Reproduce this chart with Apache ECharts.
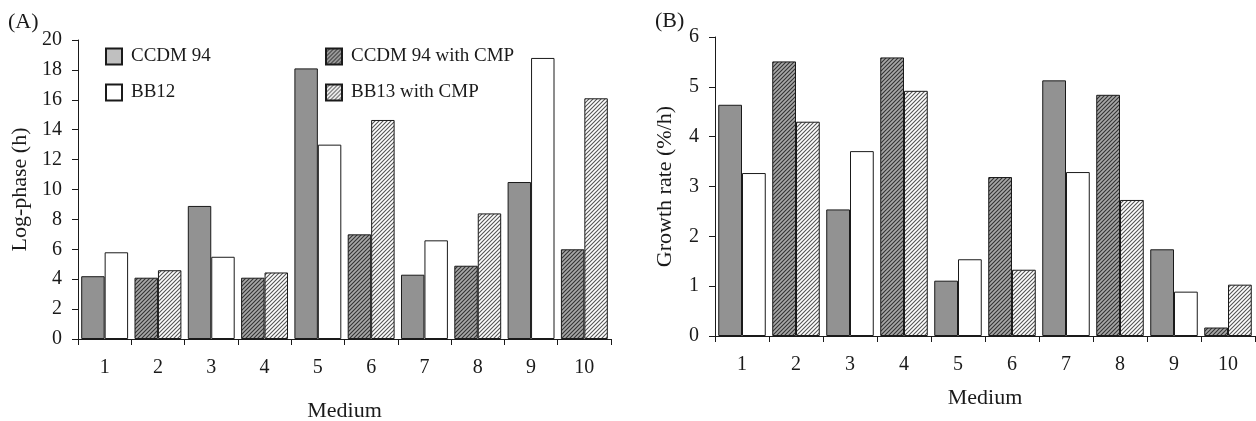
<!DOCTYPE html>
<html>
<head>
<meta charset="utf-8">
<script src="https://cdn.jsdelivr.net/npm/echarts@6/dist/echarts.min.js"></script>
<style>
    html, body { margin: 0; padding: 0; background: #fff; }
    #chart { width: 1256px; height: 421px; }
</style>
</head>
<body>
<div id="chart"></div>
<script>
// categories
const mediums = ["1", "2", "3", "4", "5", "6", "7", "8", "9", "10"];

// (A) log-phase, hours
const lag_ccdm = [4.2, null, 8.9, null, 18.1, null, 4.3, null, 10.5, null];
const lag_bb12 = [5.8, null, 5.5, null, 13.0, null, 6.6, null, 18.8, null];
const lag_ccdm_cmp = [null, 4.1, null, 4.1, null, 7.0, null, 4.9, null, 6.0];
const lag_bb13_cmp = [null, 4.6, null, 4.45, null, 14.65, null, 8.4, null, 16.1];

// (B) growth rate, %/h
const rate_ccdm = [4.64, null, 2.54, null, 1.11, null, 5.13, null, 1.74, null];
const rate_bb12 = [3.27, null, 3.71, null, 1.54, null, 3.29, null, 0.89, null];
const rate_ccdm_cmp = [null, 5.51, null, 5.59, null, 3.19, null, 4.84, null, 0.17];
const rate_bb13_cmp = [null, 4.3, null, 4.92, null, 1.33, null, 2.73, null, 1.03];

const FONT = "Liberation Serif";
const INK = "#1a1a1a";

// small tiled canvas for the "/" hatching
function hatch(bg, line) {
    const c = document.createElement("canvas");
    c.width = 4;
    c.height = 4;
    const g = c.getContext("2d");
    g.fillStyle = bg;
    g.fillRect(0, 0, 4, 4);
    g.strokeStyle = line;
    g.lineWidth = 1.1;
    g.beginPath();
    g.moveTo(0, 4); g.lineTo(4, 0);
    g.moveTo(-1, 1); g.lineTo(1, -1);
    g.moveTo(3, 5); g.lineTo(5, 3);
    g.stroke();
    return { image: c, repeat: "repeat" };
}

const FILL = {
    ccdm: "#929292",
    bb12: "#ffffff",
    ccdm_cmp: hatch("#a8a8a8", "#333333"),
    bb13_cmp: hatch("#ffffff", "#555555"),
};

const border = { borderColor: INK, borderWidth: 1 };

// one bar series; stacks keep the two bars per medium side by side
function bar(name, data, stack, fill, axis) {
    return {
        type: "bar",
        name,
        data,
        stack: stack + axis,
        xAxisIndex: axis,
        yAxisIndex: axis,
        barGap: "0%",
        barCategoryGap: "12%",
        itemStyle: { color: fill, ...border },
        emphasis: { disabled: true },
    };
}

function x_axis(grid, gap) {
    return {
        type: "category",
        gridIndex: grid,
        data: mediums,
        name: "Medium",
        nameLocation: "middle",
        nameGap: gap,
        nameTextStyle: { fontFamily: FONT, fontSize: 22, color: INK },
        axisLine: { lineStyle: { color: INK, width: 1 } },
        axisTick: { show: true, interval: 0, length: 6, lineStyle: { color: INK } },
        axisLabel: { interval: 0, margin: 19, fontFamily: FONT, fontSize: 20, color: INK },
        splitLine: { show: false },
    };
}

function y_axis(grid, name, max, step, gap) {
    return {
        type: "value",
        gridIndex: grid,
        min: 0,
        max,
        interval: step,
        name,
        nameLocation: "middle",
        nameGap: gap,
        nameTextStyle: { fontFamily: FONT, fontSize: 22, color: INK },
        axisLine: { show: true, lineStyle: { color: INK, width: 1 } },
        axisTick: { show: true, length: 6, lineStyle: { color: INK } },
        axisLabel: { margin: 16, fontFamily: FONT, fontSize: 20, color: INK },
        splitLine: { show: false },
    };
}

const legend_text = { fontFamily: FONT, fontSize: 19, color: INK, padding: [0, 0, 0, 4] };

const option = {
    animation: false,
    backgroundColor: "#fff",
    title: [
        { text: "(A)", left: 3, top: 6, textStyle: { fontFamily: FONT, fontSize: 22, fontWeight: "normal", color: INK } },
        { text: "(B)", left: 650, top: 5, textStyle: { fontFamily: FONT, fontSize: 22, fontWeight: "normal", color: INK } },
    ],
    legend: [
        {
            orient: "vertical",
            left: 100,
            top: 42,
            icon: "rect",
            itemWidth: 16,
            itemHeight: 16,
            itemGap: 17,
            selectedMode: false,
            textStyle: legend_text,
            data: [
                { name: "CCDM 94", itemStyle: { color: "#c0c0c0" } },
                { name: "BB12" },
            ],
        },
        {
            orient: "vertical",
            left: 320,
            top: 42,
            icon: "rect",
            itemWidth: 16,
            itemHeight: 16,
            itemGap: 17,
            selectedMode: false,
            textStyle: legend_text,
            data: [{ name: "CCDM 94 with CMP" }, { name: "BB13 with CMP" }],
        },
    ],
    grid: [
        { left: 78, right: 645, top: 40, bottom: 82, outerBoundsMode: "none" },
        { left: 715, right: 1, top: 37, bottom: 85, outerBoundsMode: "none" },
    ],
    xAxis: [x_axis(0, 61), x_axis(1, 51)],
    yAxis: [
        y_axis(0, "Log-phase (h)", 20, 2, 47),
        y_axis(1, "Growth rate (%/h)", 6, 1, 39),
    ],
    series: [
        bar("CCDM 94", lag_ccdm, "left", FILL.ccdm, 0),
        bar("BB12", lag_bb12, "right", FILL.bb12, 0),
        bar("CCDM 94 with CMP", lag_ccdm_cmp, "left", FILL.ccdm_cmp, 0),
        bar("BB13 with CMP", lag_bb13_cmp, "right", FILL.bb13_cmp, 0),
        bar("CCDM 94", rate_ccdm, "left", FILL.ccdm, 1),
        bar("BB12", rate_bb12, "right", FILL.bb12, 1),
        bar("CCDM 94 with CMP", rate_ccdm_cmp, "left", FILL.ccdm_cmp, 1),
        bar("BB13 with CMP", rate_bb13_cmp, "right", FILL.bb13_cmp, 1),
    ],
};

const chart = echarts.init(document.getElementById("chart"), null, { renderer: "canvas" });
chart.setOption(option);
</script>
</body>
</html>
